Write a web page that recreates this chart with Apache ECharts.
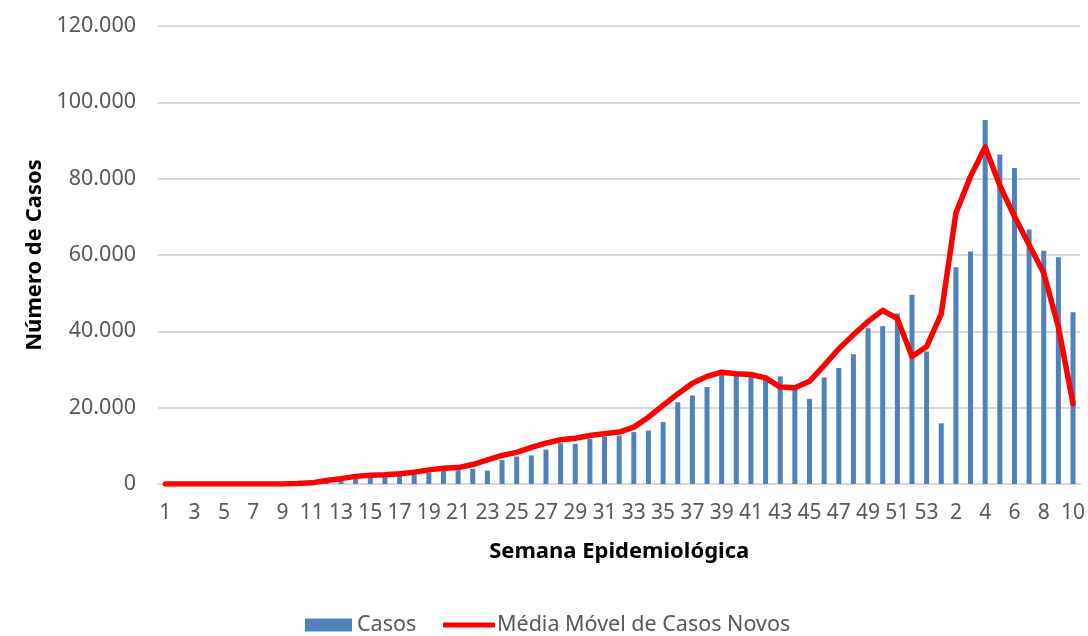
<!DOCTYPE html>
<html>
<head>
<meta charset="utf-8">
<script src="https://cdn.jsdelivr.net/npm/echarts@6/dist/echarts.min.js"></script>
<style>
  html, body { margin: 0; padding: 0; background: #fff; }
  #chart { width: 1088px; height: 636px; }
</style>
</head>
<body>
<div id="chart"></div>
<script>
// Semanas epidemiológicas: 1–53 de 2020, seguidas de 1–10 de 2021
const semanas = [
  '1','2','3','4','5','6','7','8','9','10',
  '11','12','13','14','15','16','17','18','19','20',
  '21','22','23','24','25','26','27','28','29','30',
  '31','32','33','34','35','36','37','38','39','40',
  '41','42','43','44','45','46','47','48','49','50',
  '51','52','53',
  '1','2','3','4','5','6','7','8','9','10'
];

// Casos novos por semana
const casos = [
  0, 0, 0, 0, 0, 0, 0, 0, 50, 100,
  200, 500, 900, 1400, 1900, 2000, 2200, 2500, 3000, 3400,
  3600, 4000, 3500, 6300, 7200, 7500, 9000, 10700, 10500, 11800,
  12500, 12700, 13600, 14000, 16200, 21400, 23200, 25400, 29900, 28400,
  28200, 28400, 28200, 25200, 22300, 27900, 30400, 34000, 40800, 41300,
  44700, 49600, 34700,
  15900, 56800, 60900, 95400, 86300, 82800, 66700, 61100, 59400, 45000
];

// Média móvel de casos novos
const mediaMovel = [
  0, 0, 0, 0, 0, 0, 0, 0, 0, 100,
  300, 900, 1400, 2000, 2300, 2400, 2700, 3100, 3700, 4100,
  4300, 5100, 6300, 7500, 8300, 9600, 10700, 11600, 12000, 12700,
  13200, 13600, 14900, 17500, 20600, 23600, 26400, 28200, 29300, 28900,
  28700, 27800, 25400, 25200, 26900, 31100, 35400, 39100, 42600, 45500,
  43300, 33400, 36000,
  44600, 71000, 80600, 88300, 78200, 70100, 62700, 55300, 41100, 21000
];

const FONT = '"Noto Sans", "Open Sans", sans-serif';
const fmt = v => String(v).replace(/\B(?=(\d{3})+(?!\d))/g, '.');

const chart = echarts.init(document.getElementById('chart'), null, { renderer: 'canvas' });
chart.setOption({
  animation: false,
  backgroundColor: '#ffffff',
  textStyle: { fontFamily: FONT },
  grid: { left: 158, right: 2.6, top: 26, bottom: 152, containLabel: false },
  legend: [
    {
      data: [{ name: 'Casos', icon: 'rect' }],
      left: 305, top: 614, padding: 0,
      itemWidth: 47, itemHeight: 13, itemGap: 4,
      textStyle: { fontFamily: FONT, fontSize: 21.5, color: '#595959' }
    },
    {
      data: [{ name: 'Média Móvel de Casos Novos', icon: 'roundRect' }],
      left: 443, top: 614, padding: 0,
      itemWidth: 52, itemHeight: 5, itemGap: 4,
      textStyle: { fontFamily: FONT, fontSize: 21.5, color: '#595959', padding: [0, 0, 0, -3] }
    }
  ],
  xAxis: {
    type: 'category',
    data: semanas,
    boundaryGap: true,
    name: 'Semana Epidemiológica',
    nameLocation: 'middle',
    nameGap: 57,
    nameTextStyle: { fontFamily: FONT, fontSize: 22, fontWeight: 'bold', color: '#000' },
    axisLine: { show: true, lineStyle: { color: '#d9d9d9', width: 2 } },
    axisTick: { show: false },
    axisLabel: { interval: 1, fontSize: 21, color: '#595959', margin: 19, fontFamily: FONT }
  },
  yAxis: {
    type: 'value',
    min: 0, max: 120000, interval: 20000,
    name: 'Número de Casos',
    nameLocation: 'middle',
    nameGap: 110,
    nameRotate: 90,
    nameTextStyle: { fontFamily: FONT, fontSize: 22, fontWeight: 'bold', color: '#000' },
    axisLine: { show: false },
    axisTick: { show: false },
    splitLine: { lineStyle: { color: '#d9d9d9', width: 2 } },
    axisLabel: { fontSize: 21.5, color: '#595959', margin: 22, fontFamily: FONT, formatter: fmt }
  },
  series: [
    {
      name: 'Casos',
      type: 'bar',
      data: casos,
      barWidth: 5,
      itemStyle: { color: '#4f81bd' }
    },
    {
      name: 'Média Móvel de Casos Novos',
      type: 'line',
      data: mediaMovel,
      showSymbol: false,
      symbol: 'none',
      lineStyle: { color: '#ff0000', width: 5.5, cap: 'round', join: 'round' },
      itemStyle: { color: '#ff0000' }
    }
  ]
});
</script>
</body>
</html>
